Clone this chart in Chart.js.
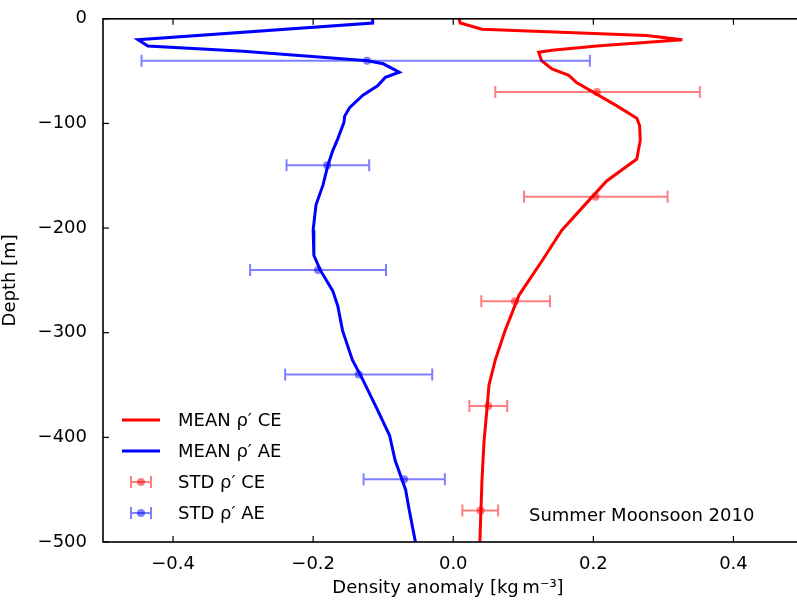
<!DOCTYPE html>
<html><head><meta charset="utf-8">
<script src="https://cdn.jsdelivr.net/npm/chart.js@4/dist/chart.umd.min.js"></script>
<style>html,body{margin:0;padding:0;background:#fff}#wrap{width:797px;height:603px}</style>
</head><body><div id="wrap"><canvas id="c"></canvas></div>
<script>
// mean profiles (x = density anomaly, y = depth)
const aeX = [-0.115,-0.115,-0.45,-0.436,-0.30,-0.22,-0.122,-0.10,-0.077,-0.097,-0.108,-0.129,-0.148,-0.155,-0.156,-0.165,-0.172,-0.179,-0.186,-0.196,-0.20,-0.199,-0.19,-0.172,-0.165,-0.158,-0.144,-0.129,-0.108,-0.091,-0.083,-0.068,-0.063,-0.054];
const aeY = [0,-4,-20,-26,-31,-35,-40,-43,-51,-56,-64,-73,-85,-93,-99,-115,-126,-140,-159,-178,-202,-226,-240,-260,-274,-298,-326,-345,-374,-398,-422,-450,-469,-500];
const ceX = [0.0085,0.01,0.041,0.276,0.327,0.205,0.141,0.122,0.126,0.141,0.165,0.176,0.233,0.262,0.266,0.267,0.262,0.219,0.193,0.155,0.127,0.094,0.074,0.06,0.051,0.048,0.044,0.041,0.038];
const ceY = [0,-4,-10,-16,-20,-26,-30,-32,-40,-48,-54,-61,-83,-95,-102,-116,-134,-155,-174,-202,-231,-264,-298,-326,-350,-374,-403,-441,-500];
// std error bars
const ceStdDepth = [-70,-170,-270,-370,-470];
const ceStdMean = [0.205,0.203,0.088,0.05,0.039];
const ceStdLo = [0.06,0.101,0.04,0.023,0.013];
const ceStdHi = [0.352,0.306,0.138,0.077,0.064];
const aeStdDepth = [-40,-140,-240,-340,-440];
const aeStdMean = [-0.123,-0.18,-0.193,-0.135,-0.07];
const aeStdLo = [-0.445,-0.238,-0.29,-0.24,-0.128];
const aeStdHi = [0.195,-0.12,-0.096,-0.03,-0.012];
const xTicks = [-0.4,-0.2,0,0.2,0.4];
const yTicks = [0,-100,-200,-300,-400,-500];

const pts = (xs, ys) => xs.map((x, i) => ({x, y: ys[i]}));
const RED = 'rgb(255,0,0)', BLUE = 'rgb(0,0,255)';
const RED_A = 'rgba(255,0,0,0.5)', BLUE_A = 'rgba(0,0,255,0.5)';
const FONT = 'DejaVu Sans';
const minus = v => String(v).replace('-', '\u2212');

const extras = {
  id: 'extras',
  afterDatasetsDraw(chart) {
    const {ctx, chartArea: a, scales: {x, y}} = chart;
    ctx.save();
    // error bars
    const bars = [[ceStdDepth, ceStdLo, ceStdHi, RED_A], [aeStdDepth, aeStdLo, aeStdHi, BLUE_A]];
    bars.forEach(([d, lo, hi, col]) => {
      ctx.strokeStyle = col; ctx.lineWidth = 2;
      d.forEach((dv, i) => {
        const py = y.getPixelForValue(dv), x0 = x.getPixelForValue(lo[i]), x1 = x.getPixelForValue(hi[i]);
        ctx.beginPath();
        ctx.moveTo(x0, py); ctx.lineTo(x1, py);
        ctx.moveTo(x0, py - 6); ctx.lineTo(x0, py + 6);
        ctx.moveTo(x1, py - 6); ctx.lineTo(x1, py + 6);
        ctx.stroke();
      });
    });
    // inward ticks
    ctx.strokeStyle = '#000'; ctx.lineWidth = 1.2;
    xTicks.forEach(v => {
      const px = x.getPixelForValue(v);
      ctx.beginPath(); ctx.moveTo(px, a.bottom); ctx.lineTo(px, a.bottom - 6);
      ctx.moveTo(px, a.top); ctx.lineTo(px, a.top + 6); ctx.stroke();
    });
    yTicks.forEach(v => {
      const py = y.getPixelForValue(v);
      ctx.beginPath(); ctx.moveTo(a.left, py); ctx.lineTo(a.left + 6, py); ctx.stroke();
    });
    // frame
    ctx.lineWidth = 1.6;
    ctx.strokeRect(a.left, a.top, a.right - a.left + 5, a.bottom - a.top);
    // legend
    const lx = a.left + 19, items = [
      ['line', RED, 'MEAN \u03C1\u2032 CE'], ['line', BLUE, 'MEAN \u03C1\u2032 AE'],
      ['err', RED_A, 'STD \u03C1\u2032 CE'], ['err', BLUE_A, 'STD \u03C1\u2032 AE']];
    ctx.font = '18px ' + FONT; ctx.textBaseline = 'middle'; ctx.fillStyle = '#000';
    items.forEach(([kind, col, txt], i) => {
      const cy = 420 + i * 31;
      if (kind === 'line') {
        ctx.strokeStyle = col; ctx.lineWidth = 3;
        ctx.beginPath(); ctx.moveTo(lx, cy); ctx.lineTo(lx + 38, cy); ctx.stroke();
      } else {
        ctx.strokeStyle = col; ctx.lineWidth = 2;
        ctx.beginPath(); ctx.moveTo(lx + 9, cy); ctx.lineTo(lx + 29, cy);
        ctx.moveTo(lx + 9, cy - 6); ctx.lineTo(lx + 9, cy + 6);
        ctx.moveTo(lx + 29, cy - 6); ctx.lineTo(lx + 29, cy + 6); ctx.stroke();
        ctx.fillStyle = col; ctx.beginPath(); ctx.arc(lx + 19, cy, 4, 0, Math.PI * 2); ctx.fill();
      }
      ctx.fillStyle = '#000'; ctx.fillText(txt, lx + 56, cy + 1);
    });
    ctx.fillText('Summer Moonsoon 2010', 529, 516);
    ctx.restore();
  }
};

new Chart(document.getElementById('c'), {
  type: 'scatter',
  data: {
    datasets: [
      {data: pts(ceX, ceY), showLine: true, borderColor: RED, borderWidth: 3, pointRadius: 0, tension: 0},
      {data: pts(aeX, aeY), showLine: true, borderColor: BLUE, borderWidth: 3, pointRadius: 0, tension: 0},
      {data: pts(ceStdMean, ceStdDepth), backgroundColor: RED_A, borderWidth: 0, pointRadius: 4},
      {data: pts(aeStdMean, aeStdDepth), backgroundColor: BLUE_A, borderWidth: 0, pointRadius: 4}
    ]
  },
  options: {
    responsive: true, maintainAspectRatio: false, animation: false,
    layout: {padding: {top: 18, right: 0, left: 0, bottom: 0}},
    plugins: {legend: {display: false}, tooltip: {enabled: false}},
    scales: {
      x: {
        min: -0.5, max: 0.485,
        afterBuildTicks: s => { s.ticks = xTicks.map(v => ({value: v})); },
        afterFit: s => { s.height = 61; },
        grid: {display: false}, border: {display: false},
        ticks: {color: '#000', font: {family: FONT, size: 18}, padding: 4, maxRotation: 0,
          callback: v => minus(v.toFixed(1))},
        title: {display: true, text: 'Density anomaly [kg\u2009m\u207B\u00B3]', color: '#000', font: {family: FONT, size: 18}, padding: {top: 2}}
      },
      y: {
        min: -500, max: 0,
        afterBuildTicks: s => { s.ticks = yTicks.map(v => ({value: v})); },
        afterFit: s => { s.width = 103; },
        grid: {display: false}, border: {display: false},
        ticks: {color: '#000', font: {family: FONT, size: 18}, padding: 8, callback: v => minus(v)},
        title: {display: true, text: 'Depth [m]', color: '#000', font: {family: FONT, size: 18}, padding: 0}
      }
    }
  },
  plugins: [extras]
});
</script></body></html>
